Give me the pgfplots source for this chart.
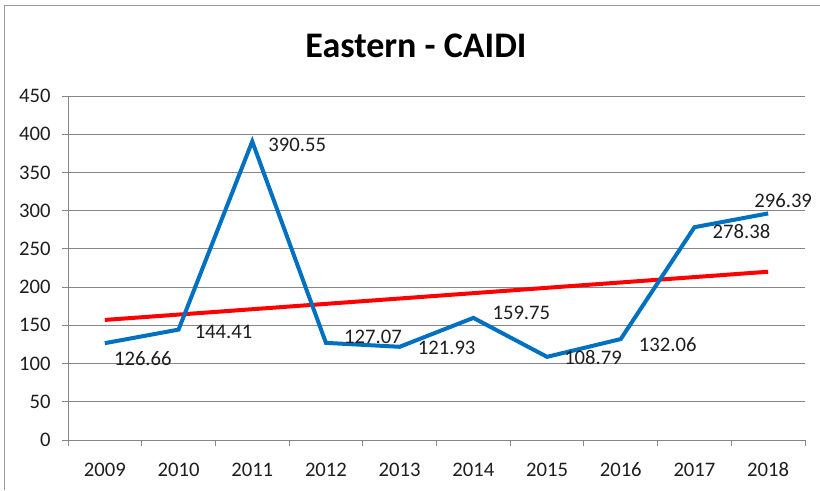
\documentclass[border=0pt]{standalone}
\usepackage{pgfplots}
\pgfplotsset{compat=1.18}
\usepackage{pgfplotstable}
\usepackage{fontspec}
\setmainfont{Carlito}
\definecolor{xlblue}{RGB}{0,112,192}
\definecolor{gridgray}{RGB}{134,134,134}
\definecolor{txt}{RGB}{30,30,30}
\pgfplotstableread{
x y dx dy
0 126.66 28.5 -11.25
1 144.41 33.75 -1.5
2 390.55 33.75 -2.25
3 127.07 35.25 4.5
4 121.93 35.25 -0.75
5 159.75 36 3.75
6 108.79 34.5 -0.75
7 132.06 35.25 -4.5
8 278.38 35.25 -3
9 296.39 11.25 9.75
}\datatable
\pgfplotstableread{
x y
0 157.07
9 220.12
}\trendtable
\begin{document}
\begin{tikzpicture}
\path[use as bounding box] (0,0) rectangle (615pt,367.5pt);
\draw[gray!80, line width=0.75pt] (3pt,0) -- (3pt,363pt) -- (615pt,363pt);
\node[font=\fontsize{27}{31}\selectfont\bfseries, text=black] at (312pt,333pt) {Eastern - CAIDI};
\begin{axis}[
  at={(51pt,37.5pt)}, anchor=south west,
  scale only axis, width=552.75pt, height=258pt,
  xmin=-0.5, xmax=9.5, ymin=0, ymax=450,
  axis x line=bottom, axis y line=left,
  axis line style={-, gridgray, line width=0.75pt},
  xtick={0,...,9},
  xticklabels={2009,2010,2011,2012,2013,2014,2015,2016,2017,2018},
  minor xtick={-0.5,0.5,...,9.5},
  ytick={0,50,...,450},
  ymajorgrids, grid style={gridgray, line width=0.75pt},
  tick align=outside,
  major tick length=4.5pt,
  minor tick length=4.5pt,
  xtick style={draw=none},
  minor x tick style={draw=gridgray, line width=0.75pt},
  ytick style={gridgray, line width=0.75pt},
  ticklabel style={font=\fontsize{15.5}{18}\selectfont, text=txt},
  /pgf/number format/assume math mode=true,
  /pgf/number format/fixed,
  xticklabel style={yshift=-9pt},
  yticklabel style={xshift=-5pt},
  clip=false,
]
\addplot[red, line width=3pt] table[x=x, y=y] {\trendtable};
\addplot[xlblue, line width=3pt, line join=miter,
  nodes near coords={\pgfmathprintnumber[fixed, fixed zerofill, precision=2]{\pgfplotspointmeta}},
  point meta=explicit,
  visualization depends on={\thisrow{dx}\as\dx},
  visualization depends on={\thisrow{dy}\as\dy},
  every node near coord/.append style={anchor=center, inner sep=0pt, xshift=\dx pt, yshift=\dy pt, font=\fontsize{15.5}{18}\selectfont, text=txt, /pgf/number format/assume math mode=true},
] table[x=x, y=y, meta=y] {\datatable};
\end{axis}
\end{tikzpicture}
\end{document}
